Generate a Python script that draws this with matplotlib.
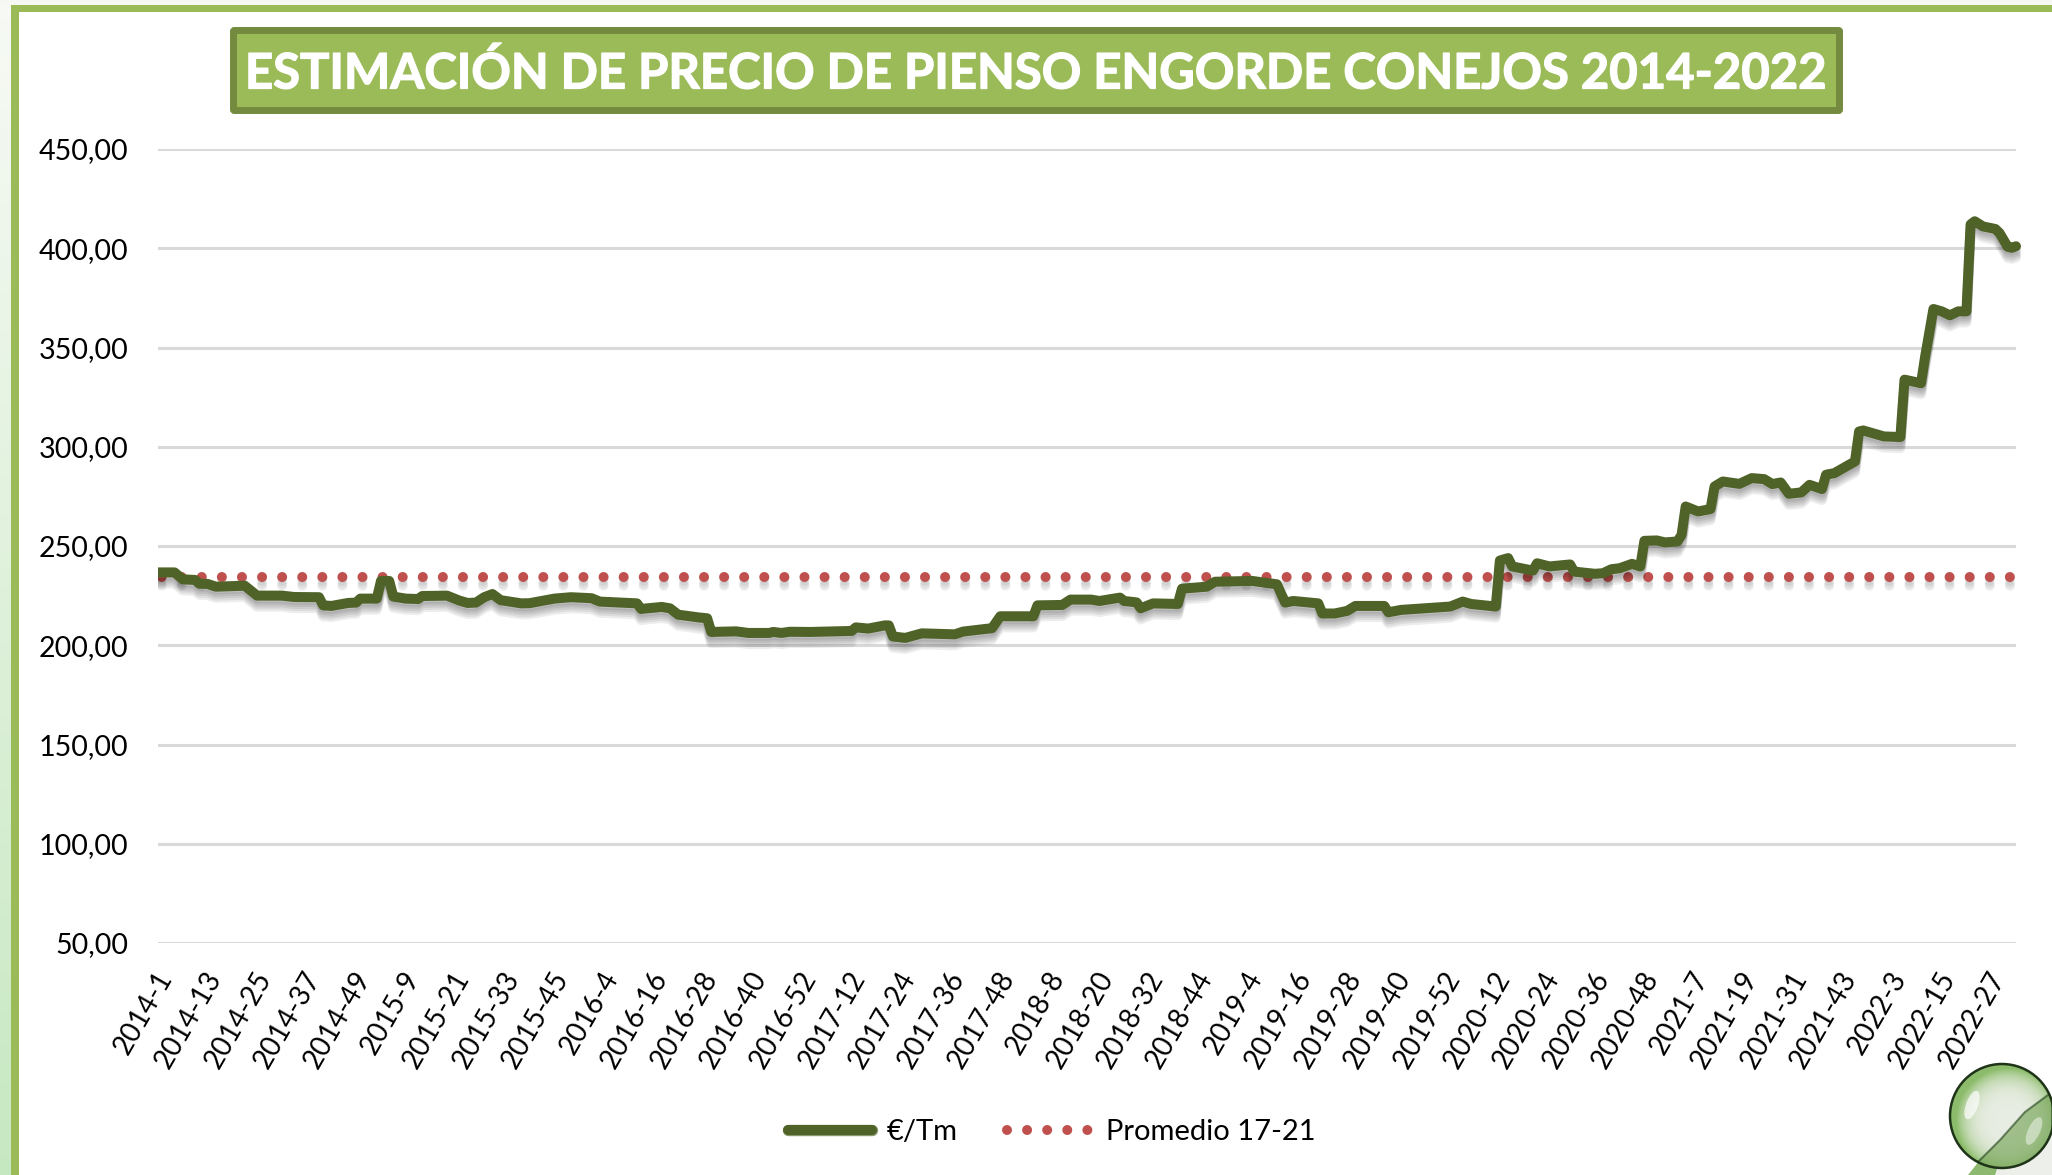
import numpy as np
import matplotlib
matplotlib.use("Agg")
import matplotlib.pyplot as plt
import matplotlib.patheffects as pe
from matplotlib.lines import Line2D
from matplotlib.patches import Rectangle, FancyBboxPatch, Circle, Ellipse, Polygon
from matplotlib.transforms import ScaledTranslation

plt.rcParams['font.family'] = ['Lato', 'DejaVu Sans']

titulo = "ESTIMACIÓN DE PRECIO DE PIENSO ENGORDE CONEJOS 2014-2022"

etiquetas = ["2014-1", "2014-13", "2014-25", "2014-37", "2014-49", "2015-9", "2015-21", "2015-33",
             "2015-45", "2016-4", "2016-16", "2016-28", "2016-40", "2016-52", "2017-12", "2017-24",
             "2017-36", "2017-48", "2018-8", "2018-20", "2018-32", "2018-44", "2019-4", "2019-16",
             "2019-28", "2019-40", "2019-52", "2020-12", "2020-24", "2020-36", "2020-48", "2021-7",
             "2021-19", "2021-31", "2021-43", "2022-3", "2022-15", "2022-27"]

y_ticks = [50, 100, 150, 200, 250, 300, 350, 400, 450]
y_labels = ["50,00", "100,00", "150,00", "200,00", "250,00", "300,00", "350,00", "400,00", "450,00"]

# semana (posicion en el eje) y precio
semana = [0, 4, 6, 9, 10, 12, 14, 21, 24, 30, 33, 39, 40, 42, 46, 48, 49, 53, 54, 56, 57, 60, 63, 64,
          70, 73, 75, 77, 79, 81, 83, 88, 90, 96, 100, 105, 107, 116, 117, 122, 124, 126, 131, 133, 134,
          140, 143, 148, 149, 151, 153, 158, 168, 169, 172, 176, 177, 178, 181, 185, 193, 195, 202, 204,
          212, 213, 219, 221, 226, 228, 233, 234, 237, 238, 241, 247, 248, 254, 256, 265, 271, 273, 275,
          281, 282, 285, 288, 290, 297, 298, 301, 306, 313, 316, 318, 324, 325, 327, 328, 333, 334, 337,
          342, 343, 348, 350, 352, 354, 357, 359, 360, 363, 365, 368, 369, 370, 373, 376, 377, 379, 383,
          386, 389, 391, 393, 395, 398, 400, 403, 404, 406, 411, 412, 413, 418, 422, 423, 427, 428, 430,
          432, 434, 436, 438, 439, 440, 442, 445, 446, 448, 449, 450]
precio = [236.7, 236.7, 233.2, 232.9, 231, 230.9, 229.5, 230, 225, 225, 224.3, 224.2, 220.1, 219.8, 221.3,
          221.5, 223.5, 223.5, 232.4, 232.4, 224.5, 223.5, 223.3, 224.8, 225, 222.5, 221.3, 221.5, 224.2,
          225.8, 222.7, 221.1, 221.2, 223.5, 224.2, 223.7, 222, 221.1, 218.3, 219.3, 218.6, 215.4, 214,
          213.6, 206.7, 207, 206.2, 206.2, 206.7, 206.2, 206.8, 206.7, 207.2, 209, 208.4, 210, 210, 204.4,
          203.7, 206, 205.5, 206.9, 208.6, 214.6, 214.6, 220.1, 220.3, 223, 223, 222.3, 224, 222.3, 221.6,
          218.6, 221.1, 220.8, 228.5, 229.5, 232, 232.4, 230.7, 221.5, 222.3, 221.1, 216, 216, 217.3, 219.8,
          219.8, 216.6, 217.8, 218.5, 219.5, 222, 220.8, 219.5, 242.7, 243.9, 239.7, 237.6, 241.3, 239.7,
          240.7, 237.1, 236, 236.3, 238.3, 238.8, 241, 239.7, 252.6, 252.8, 251.8, 252.3, 255.6, 269.9,
          267.4, 268.6, 280, 282.5, 281.3, 284.2, 283.7, 281.2, 282, 276.3, 277, 280.8, 278.7, 285.9, 286.7,
          292.6, 307.7, 308.2, 305.2, 304.9, 333.8, 332, 345.5, 369.4, 368.2, 366.2, 368.2, 368.2, 412,
          413.6, 411, 409.7, 407.7, 400.7, 400.2, 401]

semana_prom = [0, 450]
promedio = [234.6, 234.6]

VERDE = "#4F6228"
ROJO = "#C0504D"

W, H = 2052, 1175
fig = plt.figure(figsize=(W / 100, H / 100), dpi=100, facecolor="white")

# capa de fondo en pixeles: marco, caja del titulo, bola
deco = fig.add_axes([0, 0, 1, 1], zorder=0)
deco.set_xlim(0, W)
deco.set_ylim(H, 0)
deco.axis("off")

grad = np.linspace(0, 1, 64).reshape(-1, 1, 1)
grad = (1 - grad) * np.array([0.97, 0.98, 0.96]) + grad * np.array([0.78, 0.91, 0.76])
deco.imshow(grad, extent=(0, 11, H, 0), aspect="auto", zorder=1)
deco.add_patch(Rectangle((0, 0), W, 5, fc="#F6F9F3", ec="none", zorder=1))
deco.add_patch(Rectangle((11, 5), W - 11, 7, fc="#9BBB59", ec="none", zorder=2))
deco.add_patch(Rectangle((11, 5), 8, H, fc="#9BBB59", ec="none", zorder=2))
deco.set_xlim(0, W)
deco.set_ylim(H, 0)

deco.add_patch(FancyBboxPatch((233.5, 30.5), 1606, 80, boxstyle="round,pad=0,rounding_size=1",
                              fc="#9BBB59", ec="#748A3E", lw=5, zorder=3))
deco.text(1036.5, 73, titulo, color="white", fontsize=35.3, fontweight="bold",
          ha="center", va="center", zorder=4,
          path_effects=[pe.withStroke(linewidth=0.9, foreground="white")])

# esquina inferior derecha
deco.add_patch(Polygon([(1968, 1175), (1985, 1158), (2052, 1100), (2052, 1175)], fc="#EDEFEA", ec="none", zorder=3))
deco.add_patch(Polygon([(1968, 1175), (1980, 1160), (2000, 1160), (1995, 1175)], fc="#8DB870", ec="none", zorder=3))
cx, cy, r = 2002, 1116, 52
yy, xx = np.mgrid[cy - r:cy + r:208j, cx - r:cx + r:208j]
dist = np.hypot(xx - cx - 6, yy - cy - 4) / r
t = np.clip(dist, 0, 1)[..., None] ** 4
bola = (1 - t) * np.array([0.91, 0.93, 0.89]) + t * np.array([0.55, 0.74, 0.42])
im = deco.imshow(bola, extent=(cx - r, cx + r, cy + r, cy - r), aspect="auto", zorder=5)
borde = Circle((cx, cy), r, transform=deco.transData)
im.set_clip_path(borde)
abajo = Polygon([(1978, 1162), (2000, 1140), (2025, 1112), (2052, 1092), (2052, 1175), (1975, 1175)],
                fc="#6FA04F", alpha=0.6, ec="#21401A", lw=1.5, zorder=6)
deco.add_patch(abajo)
abajo.set_clip_path(borde)
deco.add_patch(Ellipse((1972, 1105), 12, 30, angle=20, fc="white", alpha=0.7, ec="none", zorder=7))
deco.add_patch(Ellipse((2034, 1131), 12, 30, angle=25, fc="white", alpha=0.45, ec="none", zorder=7))
deco.add_patch(Circle((cx, cy), r, fc="none", ec="#1F3319", lw=1.8, zorder=8))
deco.set_xlim(0, W)
deco.set_ylim(H, 0)

# grafico
ax = fig.add_axes([158 / W, 1 - 943 / H, 1858 / W, 794 / H], zorder=2)
ax.patch.set_alpha(0)
for s in ax.spines.values():
    s.set_visible(False)

ax.set_xlim(0, 450)
ax.set_ylim(50, 450)
ax.set_yticks(y_ticks)
ax.set_yticklabels(y_labels, fontsize=20.6, color="black")
ax.set_xticks(range(0, 12 * len(etiquetas), 12))
ax.set_xticklabels(etiquetas, fontsize=20, color="black", rotation=60, ha="right",
                   rotation_mode="anchor", va="center")
ax.tick_params(axis="y", length=0, pad=21.5)
ax.tick_params(axis="x", length=0, pad=22)
ax.grid(axis="y", color="#D9D9D9", lw=2.2)
ax.set_axisbelow(True)
for lab in ax.get_xticklabels():
    lab.set_transform(lab.get_transform() + ScaledTranslation(0.08, 0, fig.dpi_scale_trans))

def sombra(desp, a):
    return [pe.SimpleLineShadow(offset=(0, -d), alpha=a, shadow_color="black") for d in desp]

lw_p = 7.2
prom, = ax.plot(semana_prom, promedio, color=ROJO, lw=lw_p, linestyle=(1.65, (0.001, 2.008)),
                dash_capstyle="round", zorder=3, label="Promedio 17-21")
prom.set_path_effects(sombra([1, 3, 5, 7], 0.06) + [pe.Normal()])

linea, = ax.plot(semana, precio, color=VERDE, lw=7.2, solid_joinstyle="round",
                 solid_capstyle="round", zorder=4, label="€/Tm")
linea.set_path_effects(sombra([2, 3.5, 5, 6.5, 8], 0.07) + [pe.Normal()])
linea.set_clip_path(Rectangle((158, 0), 1900, H, transform=deco.transData))

handles = [Line2D([0], [0], color=VERDE, lw=7.2, solid_capstyle="round",
                  path_effects=[pe.Stroke(linewidth=8.2, foreground="#8A9A6A"), pe.Normal()]),
           Line2D([0], [0], color=ROJO, lw=lw_p, linestyle=(0, (0.001, 2.008)), dash_capstyle="round")]
fig.legend(handles, ["€/Tm", "Promedio 17-21"], ncol=2, loc="center left",
           bbox_to_anchor=(788 / W, 1 - 1132 / H), bbox_transform=fig.transFigure, frameon=False,
           fontsize=21, handlelength=2.88, handletextpad=0.5, columnspacing=1.7,
           borderpad=0, borderaxespad=0, labelcolor="black")

fig.savefig("out.png", dpi=100, facecolor="white")
plt.close()
